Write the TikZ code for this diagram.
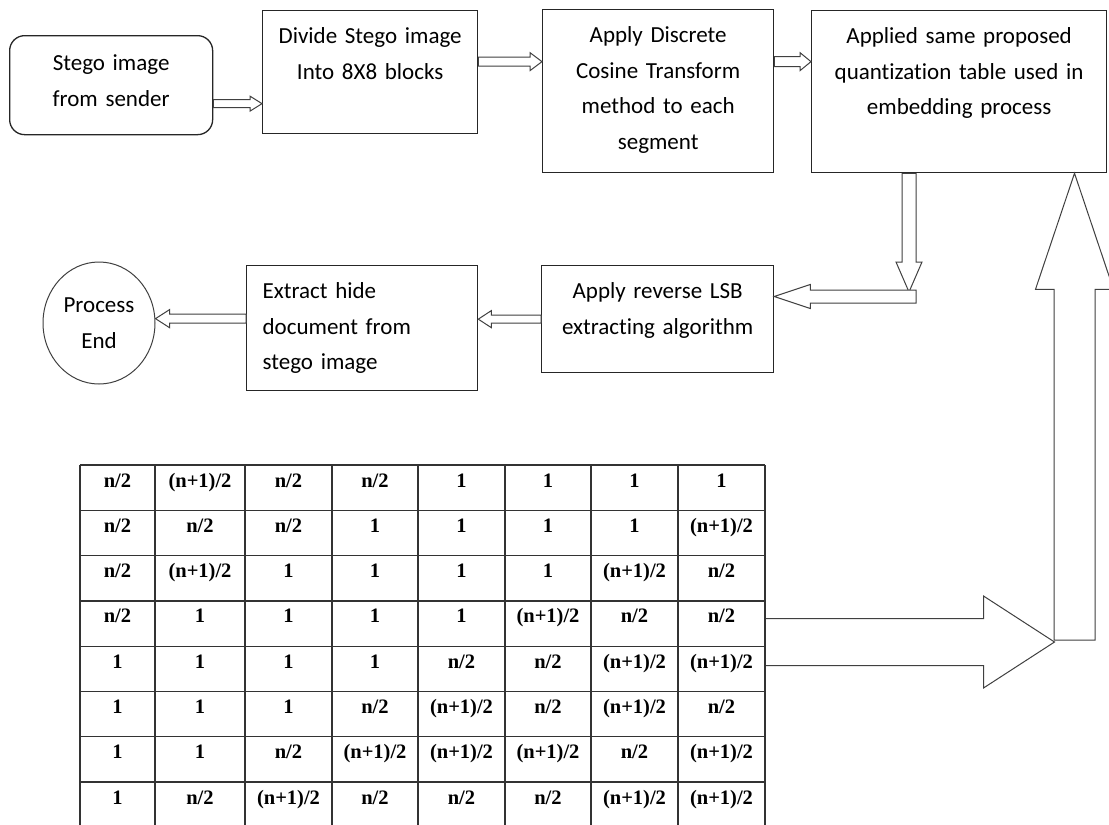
\documentclass[tikz,border=0pt]{standalone}
\usepackage{fontspec}
\setmainfont{Carlito}[Ligatures=NoCommon]
\newfontfamily\tabfont{Liberation Serif}
\usetikzlibrary{shapes.geometric,calc}

\newcommand\flowfont{\fontsize{23}{35.5}\selectfont}
% table entries
\newcommand\cellh{n/2}
\newcommand\cellq{(n+1)/2}
\newcommand\cello{1}

\tikzset{
  stepbox/.style 2 args={draw=black!85, line width=1.3pt, inner sep=0pt,
    text width=#1, align=center, text height=33pt, text depth=#2, font=\flowfont},
  blockarrow/.style n args={3}{draw=black!75, line width=1pt, fill=white,
    to path={(\tikztostart) coordinate (ba-s) (\tikztotarget) coordinate (ba-t)
      ($(ba-s)!#1pt!90:(ba-t)$)
      -- ($(ba-t)!#3pt!(ba-s)!#1pt!90:(ba-t)$)
      -- ($(ba-t)!#3pt!(ba-s)!#2pt!90:(ba-t)$)
      -- (ba-t)
      -- ($(ba-t)!#3pt!(ba-s)!#2pt!-90:(ba-t)$)
      -- ($(ba-t)!#3pt!(ba-s)!#1pt!-90:(ba-t)$)
      -- ($(ba-s)!#1pt!-90:(ba-t)$) -- cycle}},
  tabline/.style={draw=black!80, line width=1.3pt},
  cell/.style={font=\tabfont\bfseries\fontsize{20.5}{22}\selectfont, anchor=base, inner sep=0pt}
}

\begin{document}
\begin{tikzpicture}[x=1pt, y=-1pt]
\clip (0,0) rectangle (1109,825);
\fill[white] (0,0) rectangle (1109,825);

% first row of steps
\node[stepbox={203pt}{64pt}, text height=35pt, rounded corners=15pt, anchor=north west] (stego) at (9,35) {Stego image\\from sender};
\node[stepbox={215pt}{90pt}, anchor=north west] (divide) at (262,10) {Divide Stego image\\Into 8X8 blocks};
\node[stepbox={231pt}{130pt}, anchor=north west] (dct) at (542,9) {Apply Discrete\\Cosine Transform\\method to each\\segment};
\node[stepbox={295pt}{129pt}, anchor=north west] (quant) at (811,10) {Applied same proposed\\quantization table used in\\embedding process};

% second row
\node[stepbox={232pt}{74pt}, anchor=north west] (lsb) at (541,265) {Apply reverse LSB\\extracting algorithm};
\node[stepbox={199pt}{92pt}, inner xsep=16pt, align=left, anchor=north west] (extract) at (246,265) {Extract hide\\document from\\stego image};
\node[draw=black!75, line width=1pt, ellipse, minimum width=112pt, minimum height=122pt,
  inner sep=0pt, align=center, font=\flowfont] (done) at (99,323) {Process\\End};

\coordinate (bend) at (909,292);
\coordinate (tabout) at (765,642);
\coordinate (meet) at (1054.5,642);
\coordinate (rise) at (1074.5,640);

% hollow arrows between the steps
\draw[blockarrow={4}{7.5}{12}] ($(stego.east)+(0,18.5)$) to ($(stego.east -| divide.west)+(0,18.5)$);
\draw[blockarrow={4.5}{9}{12}] ($(divide.east)+(0,-10.5)$) to ($(divide.east -| dct.west)+(0,-10.5)$);
\draw[blockarrow={5}{9}{11}] ($(dct.east)+(0,-29.5)$) to ($(dct.east -| quant.west)+(0,-29.5)$);
\draw[blockarrow={7}{13}{30}] (quant.south -| bend) to (bend);
\draw[blockarrow={6.5}{12}{36}] ($(bend)+(7,4.5)$) to ($(bend -| lsb.east)+(0,4.5)$);
\draw[blockarrow={4}{8.5}{13}] (lsb.west) to (lsb.west -| extract.east);
\draw[blockarrow={4.5}{9}{14}] ($(extract.west)+(0,-9.5)$) to ($(extract.west -| done.east)+(0,-9.5)$);

% table feeds the quantization step
\draw[blockarrow={20.5}{39}{116}] (rise) to (rise |- quant.south);
\draw[blockarrow={23.5}{46}{71}] (tabout) to (meet);

% quantization table
\foreach \r in {0,...,7}
  \draw[tabline] (80,{465+45.3*\r}) -- (765,{465+45.3*\r});
\foreach \x in {80,155,245,332,418,505,591,678,765}
  \draw[tabline] (\x,465) -- (\x,825);
\foreach \row [count=\r] in {{h,q,h,h,o,o,o,o},{h,h,h,o,o,o,o,q},{h,q,o,o,o,o,q,h},{h,o,o,o,o,q,h,h},
    {o,o,o,o,h,h,q,q},{o,o,o,h,q,h,q,h},{o,o,h,q,q,q,h,q},{o,h,q,h,h,h,q,q}}
  \foreach \v [count=\c] in \row {
    \pgfmathsetmacro\cx{{117.5,200,288.5,375,461.5,548,634.5,721.5}[\c-1]}
    \node[cell] (c-\r-\c) at (\cx,{465+45.3*(\r-1)+22}) {\csname cell\v\endcsname};
  }
\end{tikzpicture}
\end{document}
